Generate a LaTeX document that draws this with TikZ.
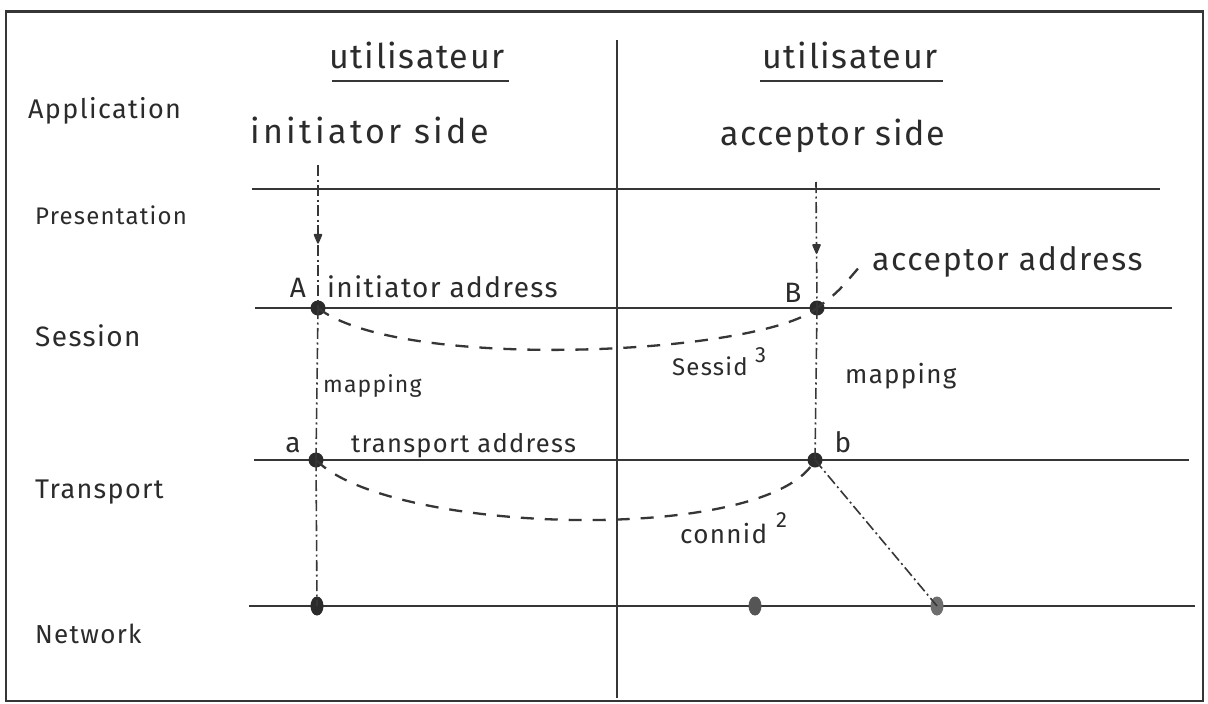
\documentclass[tikz,border=0pt]{standalone}
\usepackage{fontspec}
\setmainfont{Fira Sans}
\newfontfamily\hand[LetterSpace=5]{Fira Sans}
\usetikzlibrary{arrows.meta,decorations.markings,shapes.geometric}
\definecolor{ink}{HTML}{2B2B2B}
\definecolor{rulec}{HTML}{363636}
\definecolor{dotgray}{HTML}{555555}
\begin{document}
\begin{tikzpicture}[x=1pt,y=-1pt,
  sz/.style={font=\hand\fontsize{#1}{#1}\selectfont, text=ink, inner sep=0pt},
  lbl/.style={sz=#1, anchor=base west},
  clbl/.style={sz=#1, anchor=base},
  rule/.style={draw=rulec, line width=2pt},
  frame/.style={draw=rulec, line width=1.8pt},
  dd/.style={draw=rulec, line width=1.6pt, dash pattern=on 11pt off 3.5pt on 2pt off 3.5pt},
  dsh/.style={draw=rulec, line width=2.3pt, dash pattern=on 13pt off 11pt},
  dot/.style={circle, fill=ink, minimum size=15pt, inner sep=0pt},
  ndot/.style={ellipse, fill=#1, minimum width=13pt, minimum height=19pt, inner sep=0pt},
  midarrow/.style={postaction={decorate}, decoration={markings,
     mark=at position #1 with {\arrow{Triangle[length=11pt,width=9pt,round]}}}}
]
\useasboundingbox (0,0) rectangle (1208,704);
\fill[white] (0,0) rectangle (1208,704);
% frame
\draw[frame] (6,11) rectangle (1203,701);
\draw[draw=rulec, line width=3pt] (6,11) -- (1203,11);

% divider
\coordinate (divT) at (617,40);
\coordinate (divB) at (617,698);
\draw[rule, line width=1.6pt] (divT) -- (divB);

% layer lines
\coordinate (presL) at (252,189); \coordinate (presR) at (1160,189);
\coordinate (sesL) at (255,308);  \coordinate (sesR) at (1172,308);
\coordinate (traL) at (254,460);  \coordinate (traR) at (1189,460);
\coordinate (netL) at (249,606);  \coordinate (netR) at (1195,606);
\draw[rule] (presL) -- (presR);
\draw[rule] (sesL) -- (sesR);
\draw[rule] (traL) -- (traR);
\draw[rule, line width=2.4pt] (netL) -- (netR);

% titles
\node[clbl=34] (utilL) at (417,68) {utilisateur};
\node[clbl=34] (utilR) at (850,68) {utilisateur};
\coordinate (ulL1) at (332,81); \coordinate (ulL2) at (509,81);
\coordinate (ulR1) at (760,81); \coordinate (ulR2) at (943,81);
\draw[rule, line width=2.4pt] (ulL1) -- (ulL2);
\draw[rule, line width=2.4pt] (ulR1) -- (ulR2);

\node[lbl=27] (app) at (28,118) {Application};
\node[lbl=34] (iside) at (250,143) {\addfontfeature{LetterSpace=10}initiator side};
\node[lbl=34] (aside) at (720,145) {acceptor side};
\node[lbl=24] (pres) at (35,224) {Presentation};
\node[lbl=28] (sess) at (35,346) {Session};
\node[lbl=27] (trans) at (35,498) {Transport};
\node[lbl=26] (net) at (35,643) {Network};

% points
\node[dot] (A) at (318,308) {};
\node[dot] (B) at (817,308) {};
\node[dot] (a) at (316,460) {};
\node[dot] (b) at (815,460) {};
\node[ndot=ink] (n1) at (317,606) {};
\node[ndot=dotgray] (n2) at (755,606) {};
\node[ndot=dotgray!85] (n3) at (937,606) {};

% vertical dash-dot lines
\coordinate (Ltop) at (318,165);
\coordinate (Rtop) at (816,182);
\draw[dd, midarrow=0.55] (Ltop) -- (A.center);
\draw[dd] (A.center) -- (a.center);
\draw[dd] (a.center) -- (n1.center);
\draw[dd, midarrow=0.57] (Rtop) -- (B.center);
\draw[dd] (B.center) -- (b.center);
\draw[dd] (b.center) -- (n3.center);

% dashed connections
\coordinate (accEnd) at (861,265);
\draw[dsh] (A.center) .. controls (400,372) and (760,355) .. (B.center);
\draw[dsh, dash phase=4pt] (B.center) .. controls (838,292) .. (accEnd);
\draw[dsh] (a.center) .. controls (390,535) and (770,545) .. (b.center);

% labels
\node[clbl=28] (lA) at (298,297) {A};
\node[lbl=28] (iaddr) at (327,297) {initiator address};
\node[clbl=28] (lB) at (793,302) {B};
\node[lbl=32] (aaddr) at (872,270) {acceptor address};
\node[lbl=24] (sessid) at (672,375) {Sessid};
\node[lbl=22] (s3) at (755,362) {3};
\node[lbl=23] (mapL) at (323,392) {mapping};
\node[lbl=26] (mapR) at (845,383) {mapping};
\node[clbl=28] (la) at (293,452) {a};
\node[lbl=25.5] (taddr) at (351,452) {transport address};
\node[clbl=28] (lb) at (843,452) {b};
\node[lbl=26] (connid) at (680,543) {connid};
\node[lbl=22] (c2) at (776,527) {2};
\end{tikzpicture}
\end{document}
